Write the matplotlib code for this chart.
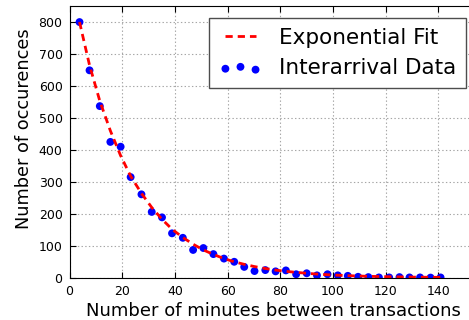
import matplotlib
matplotlib.use("Agg")
import matplotlib.pyplot as plt

plt.rcParams["lines.scale_dashes"] = False

# interarrival histogram (bin centres in minutes, counts)
minutes = [3.8, 7.6, 11.5, 15.5, 19.4, 23.2, 27.3, 31.2, 35.1, 38.9, 43.0, 46.9,
           50.8, 54.6, 58.6, 62.5, 66.3, 70.2, 74.3, 78.2, 82.1, 86.0, 90.0, 93.9,
           97.9, 101.8, 105.6, 109.5, 113.4, 117.4, 121.3, 125.2, 129.0, 133.0, 137.0, 140.8]
counts = [800, 649, 537, 425, 410, 315, 261, 206, 189, 139, 125, 87,
          93, 74, 60, 50, 34, 21, 24, 20, 23, 11, 14, 7.5,
          11, 7.5, 6, 3, 2, 1, 1, 2, 1, 1, 0.5, 1]

# exponential fit
fit_counts = [800, 665, 553, 460, 382, 318, 264, 220, 183, 152, 126, 105,
              87, 73, 60, 50, 42, 35, 29, 24, 20, 17, 14, 11.5,
              9.5, 8, 6.6, 5.5, 4.6, 3.8, 3.2, 2.6, 2.2, 1.8, 1.5, 1.3]

fig = plt.figure(figsize=(4.69, 3.2), dpi=100)
# axes run a little past the right edge of the figure, like the original
ax = fig.add_axes([0.1482, 0.132, 0.871, 0.849])

pts = ax.scatter(minutes, counts, s=32, color="b", edgecolor="none", zorder=1,
                 label="Interarrival Data")
fit, = ax.plot(minutes, fit_counts, color="r", linestyle="--", dashes=(5.2, 3.6),
               linewidth=2, zorder=2, label="Exponential Fit")

ax.set_xlim(0, 155)
ax.set_ylim(0, 850)
ax.set_xticks([0, 20, 40, 60, 80, 100, 120, 140])
ax.set_yticks([0, 100, 200, 300, 400, 500, 600, 700, 800])
ax.tick_params(direction="in", top=True, right=True, length=4, labelsize=9, pad=5)
ax.spines["right"].set_visible(False)
ax.grid(True, linestyle=":", color="0.65", linewidth=0.8)
ax.set_axisbelow(True)

ax.set_xlabel("Number of minutes between transactions", fontsize=13, labelpad=3)
ax.set_ylabel("Number of occurences", fontsize=12.8, labelpad=4)
ax.yaxis.label.set_y(0.547)

leg = ax.legend([fit, pts], ["Exponential Fit", "Interarrival Data"],
                loc="upper right", fontsize=15.5, numpoints=2, scatterpoints=3,
                borderaxespad=0.55, handlelength=2.0, handletextpad=0.8,
                borderpad=0.45, fancybox=False, framealpha=1, edgecolor="0.3")
leg.get_frame().set_linewidth(1)

fig.savefig("out.png", dpi=100)
